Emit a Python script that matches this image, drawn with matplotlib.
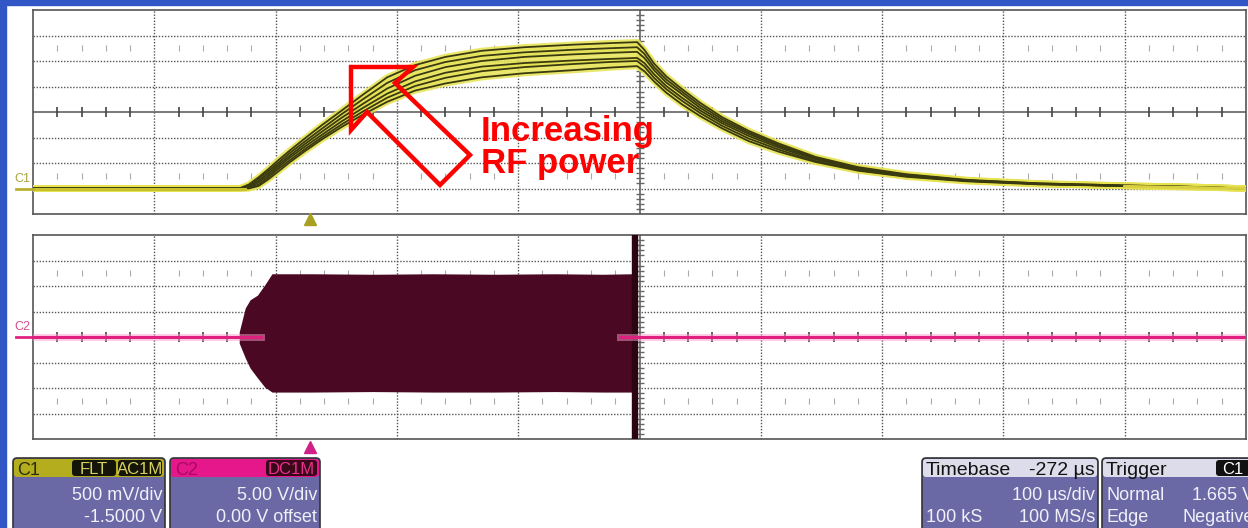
import numpy as np
import matplotlib
matplotlib.use("Agg")
import matplotlib.pyplot as plt
from matplotlib.patches import Rectangle, FancyBboxPatch, Polygon

plt.rcParams['font.family'] = ['Liberation Sans', 'DejaVu Sans']

# screen time (us from left edge of the display), 100 us/div
t_c1 = [0, 170, 178, 186, 194, 202, 212, 224, 238, 254, 272, 292, 315, 340, 370, 405, 445, 475,
        498, 504, 512, 522, 535, 550, 568, 590, 615, 645, 680, 720, 770, 830, 900, 960, 1000]

# C1 detector traces (V), one per RF power level, highest first
c1_runs = [
    [0, 0, 0.08, 0.22, 0.38, 0.55, 0.75, 0.98, 1.24, 1.52, 1.84, 2.18, 2.42, 2.58, 2.70, 2.77, 2.82, 2.85,
     2.87, 2.72, 2.45, 2.20, 1.95, 1.68, 1.40, 1.13, 0.88, 0.62, 0.42, 0.28, 0.17, 0.10, 0.06, 0.03, 0.0],
    [0, 0, 0.06, 0.19, 0.34, 0.50, 0.70, 0.92, 1.17, 1.45, 1.75, 2.07, 2.32, 2.48, 2.60, 2.67, 2.72, 2.75,
     2.77, 2.64, 2.38, 2.14, 1.90, 1.63, 1.36, 1.10, 0.85, 0.60, 0.40, 0.27, 0.16, 0.10, 0.06, 0.03, 0.0],
    [0, 0, 0.04, 0.15, 0.30, 0.46, 0.65, 0.87, 1.11, 1.38, 1.66, 1.96, 2.21, 2.38, 2.50, 2.58, 2.63, 2.66,
     2.68, 2.56, 2.32, 2.08, 1.85, 1.58, 1.32, 1.07, 0.83, 0.59, 0.39, 0.26, 0.16, 0.09, 0.05, 0.03, 0.0],
    [0, 0, 0.02, 0.12, 0.26, 0.42, 0.61, 0.82, 1.05, 1.31, 1.58, 1.86, 2.10, 2.27, 2.39, 2.46, 2.51, 2.54,
     2.56, 2.46, 2.24, 2.01, 1.78, 1.53, 1.28, 1.03, 0.80, 0.57, 0.38, 0.25, 0.15, 0.09, 0.05, 0.03, 0.0],
    [0, 0, 0.01, 0.08, 0.22, 0.38, 0.56, 0.77, 1.00, 1.25, 1.51, 1.78, 2.01, 2.17, 2.30, 2.38, 2.44, 2.48,
     2.50, 2.39, 2.17, 1.95, 1.72, 1.48, 1.23, 0.98, 0.76, 0.54, 0.36, 0.24, 0.15, 0.09, 0.05, 0.02, 0.0],
    [0, 0, 0, 0.05, 0.18, 0.33, 0.52, 0.73, 0.96, 1.20, 1.45, 1.70, 1.92, 2.06, 2.18, 2.26, 2.32, 2.37,
     2.40, 2.30, 2.10, 1.88, 1.65, 1.42, 1.18, 0.93, 0.72, 0.52, 0.35, 0.23, 0.14, 0.08, 0.05, 0.02, 0.0],
]

# C2 RF burst envelope (V)
t_rf = [170, 175, 179, 185, 191, 197, 230, 280, 330, 380, 430, 470, 494]
rf_top = [1.0, 5.7, 7.3, 8.2, 10.2, 12.4, 12.4, 12.3, 12.4, 12.3, 12.4, 12.3, 12.4]
rf_bot = [-1.2, -4.1, -6.1, -8.0, -9.8, -10.8, -10.8, -10.7, -10.8, -10.8, -10.7, -10.8, -10.8]
t_base_pre = [0, 188]
t_base_post = [484, 1000]

W, H = 1248, 528
fig = plt.figure(figsize=(W / 100, H / 100), dpi=100)

bg = fig.add_axes([0, 0, 1, 1], zorder=0)
bg.set_xlim(0, W)
bg.set_ylim(H, 0)
bg.axis('off')
bg.add_patch(Rectangle((0, 0), W, H, color='white'))
bg.add_patch(Rectangle((0, 0), 6, H, color='#3157c6'))
bg.add_patch(Rectangle((0, 0), W, 5, color='#3157c6'))

GRID = '#555555'


def scope_axes(top_px, ylo, yhi):
    ax = fig.add_axes([33 / W, (H - top_px - 204) / H, 1213 / W, 204 / H], zorder=2)
    ax.set_xlim(0, 1000)
    ax.set_ylim(ylo, yhi)
    ax.set_xticks([])
    ax.set_yticks([])
    for s in ax.spines.values():
        s.set_color(GRID)
        s.set_linewidth(1.2)
    ax.patch.set_alpha(0)
    div = (yhi - ylo) / 8
    mid = (yhi + ylo) / 2
    for i in range(1, 10):
        if i == 5:
            ax.axvline(i * 100, color=GRID, lw=1.1, zorder=1)
        else:
            ax.axvline(i * 100, color=GRID, lw=1.0, ls=(0, (1, 1.2)), zorder=1)
    for j in range(1, 8):
        y = ylo + j * div
        if j == 4:
            ax.axhline(y, color=GRID, lw=1.1, zorder=1)
        else:
            ax.axhline(y, color=GRID, lw=1.0, ls=(0, (1, 1.2)), zorder=1)
    minor = [x for x in np.arange(20, 1000, 20) if x % 100]
    ax.plot(minor, [mid] * len(minor), ls='none', marker='|', ms=7, mew=1.2, color='#444444', zorder=1)
    for r in (mid + 2.5 * div, mid - 2.5 * div):
        ax.plot(minor, [r] * len(minor), ls='none', marker='|', ms=4, mew=0.8, color='#aaaaaa', zorder=1)
    vminor = [ylo + k * div / 5 for k in range(1, 40) if k % 5]
    ax.plot([500] * len(vminor), vminor, ls='none', marker='_', ms=6, mew=1.0, color='#666666', zorder=1)
    return ax


# top panel: C1, 500 mV/div, offset -1.5 V
ax1 = scope_axes(10, -0.5, 3.5)
for v in c1_runs:
    ax1.plot(t_c1, v, color='#e6e250', lw=4.5, alpha=0.85, solid_capstyle='round', zorder=3)
for v in c1_runs:
    ax1.plot(t_c1, v, color='#3a3a10', lw=1.3, zorder=4)
ax1.plot([0, 175], [0, 0], color='#c9c230', lw=2.2, zorder=5)
ax1.plot([900, 1000], [0.04, 0.0], color='#d8d040', lw=2.2, zorder=5)

# bottom panel: C2, 5 V/div
ax2 = scope_axes(235, -20, 20)
ax2.fill_between(t_rf, rf_bot, rf_top, color='#4a0822', lw=0, zorder=3)
ax2.axvspan(494, 498, color='#2a0410', zorder=4)
for tb in (t_base_pre, t_base_post):
    ax2.plot(tb, [0, 0], color='#ff9ccc', lw=5, alpha=0.5, zorder=5)
    ax2.plot(tb, [0, 0], color='#e0207e', lw=2.2, zorder=6)

fg = fig.add_axes([0, 0, 1, 1], zorder=10)
fg.set_xlim(0, W)
fg.set_ylim(H, 0)
fg.axis('off')
fg.patch.set_alpha(0)

# channel markers
fg.text(14, 182, 'C1', fontsize=9, color='#a8a440')
fg.plot([16, 33], [189, 189], color='#b8b030', lw=2)
fg.text(14, 330, 'C2', fontsize=9, color='#d05090')
fg.plot([16, 33], [337, 337], color='#e0207e', lw=2)
fg.plot([310], [219], marker='^', ms=8, color='#a8a020', ls='none')
fg.plot([310], [447], marker='^', ms=8, color='#d0208a', ls='none')

# annotation arrow and text
arrow = [(351, 67), (413, 67), (395, 83), (470, 155), (440, 185), (367, 112), (351, 130)]
fg.add_patch(Polygon(arrow, closed=True, fill=False, edgecolor='red', lw=3.2, joinstyle='miter'))
fg.text(481, 141, 'Increasing', fontsize=25, fontweight='bold', color='red')
fg.text(481, 173, 'RF power', fontsize=25, fontweight='bold', color='red')

BODY = '#6b68a6'
TXT = '#f0f0f8'


def box(x0, x1, head):
    fg.add_patch(FancyBboxPatch((x0, 458), x1 - x0, 80, boxstyle='round,pad=0,rounding_size=4',
                                fc=BODY, ec='#333333', lw=1.2))
    fg.add_patch(FancyBboxPatch((x0 + 1, 459), x1 - x0 - 2, 18, boxstyle='round,pad=0,rounding_size=3',
                                fc=head, ec='none'))


def tag(x0, x1, label, fc, tc):
    fg.add_patch(FancyBboxPatch((x0, 460), x1 - x0, 16, boxstyle='round,pad=0,rounding_size=3',
                                fc=fc, ec='none'))
    fg.text((x0 + x1) / 2, 474, label, fontsize=12, color=tc, ha='center')


fs = 13
box(13, 165, '#b4ae1e')
fg.text(17, 475, 'C1', fontsize=fs, color='#2c2c08')
tag(72, 116, 'FLT', '#141408', '#d8d060')
tag(118, 162, 'AC1M', '#141408', '#d8d060')
fg.text(162, 500, '500 mV/div', fontsize=fs, color=TXT, ha='right')
fg.text(162, 522, '-1.5000 V', fontsize=fs, color=TXT, ha='right')

box(170, 320, '#e5178b')
fg.text(175, 475, 'C2', fontsize=fs, color='#a80a60')
tag(266, 317, 'DC1M', '#3a0818', '#e8308e')
fg.text(317, 500, '5.00 V/div', fontsize=fs, color=TXT, ha='right')
fg.text(317, 522, '0.00 V offset', fontsize=fs, color=TXT, ha='right')

box(922, 1098, '#dcdcea')
fg.text(926, 475, 'Timebase', fontsize=fs + 1, color='#111111')
fg.text(1095, 475, '-272 µs', fontsize=fs + 1, color='#111111', ha='right')
fg.text(1095, 500, '100 µs/div', fontsize=fs, color=TXT, ha='right')
fg.text(926, 522, '100 kS', fontsize=fs, color=TXT)
fg.text(1095, 522, '100 MS/s', fontsize=fs, color=TXT, ha='right')

box(1102, 1262, '#dcdcea')
fg.text(1106, 475, 'Trigger', fontsize=fs + 1, color='#111111')
tag(1216, 1250, 'C1', '#111111', '#ffffff')
fg.text(1106, 500, 'Normal', fontsize=fs, color=TXT)
fg.text(1254, 500, '1.665 V', fontsize=fs, color=TXT, ha='right')
fg.text(1106, 522, 'Edge', fontsize=fs, color=TXT)
fg.text(1254, 522, 'Negative', fontsize=fs, color=TXT, ha='right')

fig.savefig('out.png', dpi=100)
